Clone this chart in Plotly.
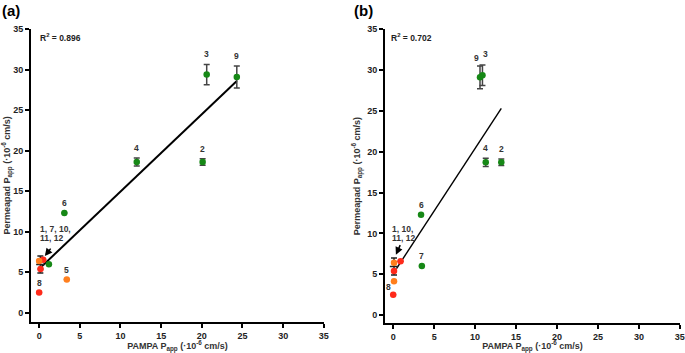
import plotly.graph_objects as go

# ---------- data: panel (a) ----------
a_x = [20.6, 24.3, 12.0, 20.1, 3.1, 1.2, 3.4, 0.0, 0.5, 0.17, 0.0]
a_y = [29.4, 29.1, 18.6, 18.6, 12.3, 6.0, 4.1, 2.5, 6.55, 5.4, 6.4]
a_err = [1.25, 1.35, 0.5, 0.4, 0, 0, 0, 0, 0, 0, 0]
a_col = ["green", "green", "green", "green", "green", "green", "orange", "red", "red", "red", "orange"]
a_lab = ["3", "9", "4", "2", "6", "", "5", "8", "", "", ""]
a_mean_x = [0.15]
a_mean_y = [5.95]
a_mean_err = [1.05]
a_fit_x = [0.3, 24.3]
a_fit_y = [5.7, 28.6]
a_r2 = "R<sup>2</sup> = 0.896"
a_group_lines = ["1, 7, 10,", "11, 12"]

# ---------- data: panel (b) ----------
b_x = [10.6, 10.9, 11.3, 13.2, 3.4, 3.5, 0.1, 0.1, 0.1, 0.0, 0.9]
b_y = [29.1, 29.35, 18.7, 18.7, 12.3, 6.0, 6.4, 5.4, 4.15, 2.5, 6.6]
b_err = [1.4, 1.25, 0.5, 0.4, 0, 0, 0, 0, 0, 0, 0]
b_col = ["green", "green", "green", "green", "green", "green", "orange", "red", "orange", "red", "red"]
b_lab = ["9", "3", "4", "2", "6", "7", "", "", "", "8", ""]
b_mean_x = [0.1]
b_mean_y = [5.95]
b_mean_err = [1.05]
b_fit_x = [0.4, 13.2]
b_fit_y = [5.7, 25.3]
b_r2 = "R<sup>2</sup> = 0.702"
b_group_lines = ["1, 10,", "11, 12"]

ticks = [0, 5, 10, 15, 20, 25, 30, 35]

COLORS = {"green": "#168816", "red": "#ff2a1a", "orange": "#ff7f1e"}
FONT = "Liberation Sans, Arial, sans-serif"
A_SHIFT = {}
B_SHIFT = {"9": (-4, -2), "3": (3, 1), "8": (-5, -2)}


def bfont(size, color="#333"):
    return dict(family=FONT, size=size, color=color, weight="bold")


fig = go.Figure()


def add_panel(xs, ys, errs, cols, labs, mx, my, merr, fx, fy, xa, ya, lw, shifts):
    fig.add_trace(go.Scatter(x=fx, y=fy, mode="lines", xaxis=xa, yaxis=ya,
                             line=dict(color="black", width=lw), showlegend=False,
                             hoverinfo="skip"))
    fig.add_trace(go.Scatter(x=mx, y=my, mode="markers", xaxis=xa, yaxis=ya,
                             marker=dict(symbol="line-ew", size=6, color="#222",
                                         line=dict(width=1.5, color="#222")),
                             error_y=dict(type="data", array=merr, color="#222",
                                          thickness=1.5, width=3),
                             showlegend=False))
    fig.add_trace(go.Scatter(x=xs, y=ys, mode="markers", xaxis=xa, yaxis=ya,
                             marker=dict(size=6.5, color=[COLORS[c] for c in cols]),
                             error_y=dict(type="data", array=errs, color="#444",
                                          thickness=1.5, width=3),
                             showlegend=False))
    for x, y, e, t in zip(xs, ys, errs, labs):
        if not t:
            continue
        dx, dy = shifts.get(t, (0, 0))
        fig.add_annotation(x=x, y=y + e, xref=xa, yref=ya, text=t, showarrow=False,
                           xshift=dx, yshift=10 + dy, font=bfont(8.5))


def add_group(lines, tx, ty, tail, tip, xa, ya):
    for i, t in enumerate(lines):
        fig.add_annotation(x=tx, y=ty, xref=xa, yref=ya, text=t, showarrow=False,
                           xanchor="left", yanchor="middle", yshift=-9 * i,
                           font=bfont(8.5))
    fig.add_annotation(x=tip[0], y=tip[1], xref=xa, yref=ya,
                       ax=tail[0], ay=tail[1], axref=xa, ayref=ya,
                       text="", showarrow=True, arrowhead=2, arrowsize=1, arrowwidth=1.5,
                       arrowcolor="black")


add_panel(a_x, a_y, a_err, a_col, a_lab, a_mean_x, a_mean_y, a_mean_err,
          a_fit_x, a_fit_y, "x", "y", 2, A_SHIFT)
add_panel(b_x, b_y, b_err, b_col, b_lab, b_mean_x, b_mean_y, b_mean_err,
          b_fit_x, b_fit_y, "x2", "y2", 1.4, B_SHIFT)

add_group(a_group_lines, -0.15, 10.3, (1.56, 8.1), (0.7, 7.0), "x", "y")
add_group(b_group_lines, -0.35, 10.5, (0.94, 8.75), (0.33, 7.4), "x2", "y2")

xtitle = "PAMPA P<sub>app</sub> (·10<sup>-6</sup> cm/s)"
ytitle = "Permeapad P<sub>app</sub> (·10<sup>-6</sup> cm/s)"

axis_common = dict(showline=True, linewidth=2, linecolor="black", mirror=False,
                   ticks="outside", ticklen=4, tickwidth=1.5, tickcolor="black",
                   showgrid=False, zeroline=False, tickvals=ticks,
                   tickfont=bfont(9, "#222"),
                   ticklabeloverflow="allow", automargin=False)
tfont = bfont(9, "#333")

fig.update_layout(
    width=685, height=353,
    margin=dict(l=0, r=0, t=0, b=0),
    paper_bgcolor="white", plot_bgcolor="white",
    xaxis=dict(domain=[31 / 685, 324 / 685], range=[-1.0, 35.02], anchor="y",
               title=dict(text=xtitle, font=tfont, standoff=6), **axis_common),
    yaxis=dict(domain=[(353 - 321.7) / 353, (353 - 29) / 353], range=[-1.1, 35.02], anchor="x",
               title=dict(text=ytitle, font=tfont, standoff=5), **axis_common),
    xaxis2=dict(domain=[385 / 685, 680 / 685], range=[-1.0, 35.02], anchor="y2",
                title=dict(text=xtitle, font=tfont, standoff=6), **axis_common),
    yaxis2=dict(domain=[(353 - 323.3) / 353, (353 - 29) / 353], range=[-1.0, 35.02], anchor="x2",
                title=dict(text=ytitle, font=tfont, standoff=5), **axis_common),
)

fig.add_annotation(x=-0.15, y=34, xref="x", yref="y", text=a_r2, showarrow=False,
                   xanchor="left", yanchor="middle", font=bfont(8.5, "#222"))
fig.add_annotation(x=-0.5, y=34, xref="x2", yref="y2", text=b_r2, showarrow=False,
                   xanchor="left", yanchor="middle", font=bfont(8.5, "#222"))

fig.add_annotation(x=0, y=1, xref="paper", yref="paper", text="<b>(a)</b>", showarrow=False,
                   xanchor="left", yanchor="top", font=dict(family=FONT, size=15, color="black"))
fig.add_annotation(x=352 / 685, y=1, xref="paper", yref="paper", text="<b>(b)</b>", showarrow=False,
                   xanchor="left", yanchor="top", font=dict(family=FONT, size=15, color="black"))

fig.write_html("out.html", config={"displayModeBar": False},
               post_script="document.body.style.margin='0';document.body.style.overflow='hidden';")
